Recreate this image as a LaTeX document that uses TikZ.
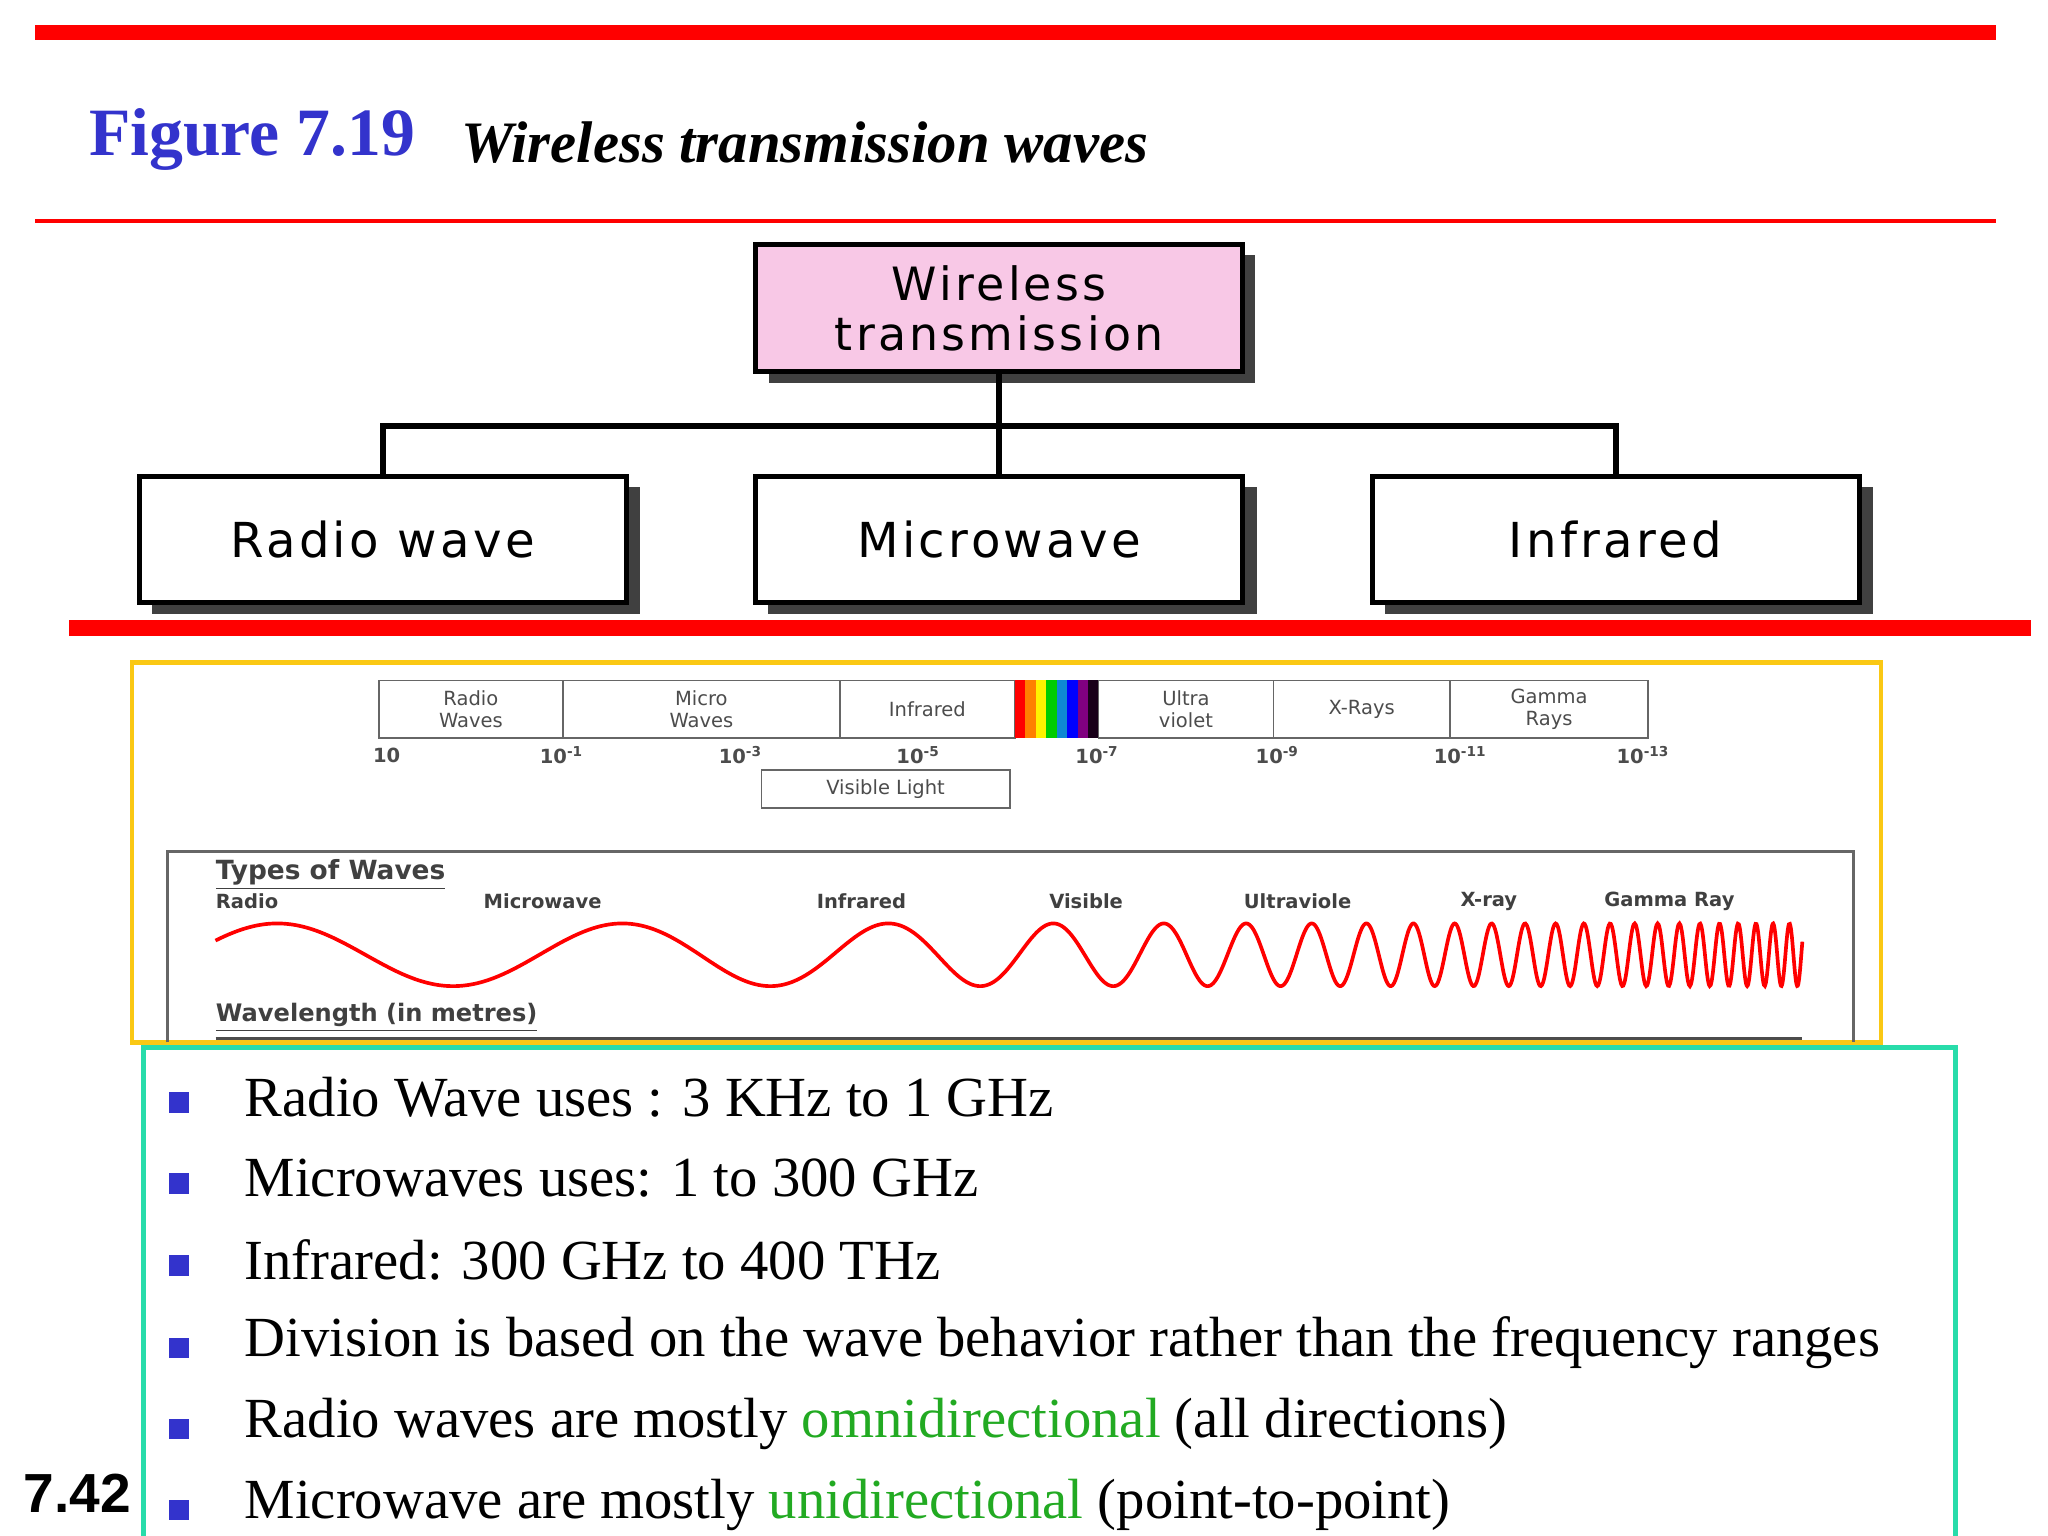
\documentclass[tikz,border=0pt]{standalone}
\usepackage{fontspec}
\setmainfont{Liberation Serif}
\newfontfamily\boxfont[LetterSpace=7]{DejaVu Sans}
\newfontfamily\smallf{DejaVu Sans}
\newfontfamily\numf{Liberation Sans}
\usetikzlibrary{calc}
\definecolor{tblue}{RGB}{51,51,204}
\definecolor{tgreen}{RGB}{34,170,34}
\definecolor{pinkbox}{RGB}{248,200,230}
\definecolor{yel}{RGB}{250,200,20}
\definecolor{teal2}{RGB}{40,220,170}
\tikzset{
 hbox/.style={draw=black,line width=2.2pt,minimum width=373*0.02cm,minimum height=97*0.02cm,font=\boxfont\fontsize{21}{24}\selectfont,align=center,fill=white},
 shad/.style={fill=black!75},
 conn/.style={line width=2.5pt},
 spec/.style={draw=black!60,line width=0.8pt,font=\smallf\fontsize{8.5}{9.5}\selectfont,align=center,text=black!70,inner sep=0pt},
 lab/.style={font=\smallf\bfseries\fontsize{8.5}{9}\selectfont,text=black!75,anchor=west,inner sep=0pt},
 bul/.style={fill=tblue,minimum size=9pt,inner sep=0pt},
 btxt/.style={font=\fontsize{24.7}{28}\selectfont,anchor=west,inner sep=0pt},
}
\begin{document}
\begin{tikzpicture}[x=0.02cm,y=-0.02cm]
\useasboundingbox[fill=white] (0,0) rectangle (1568,1176);
\fill[red] (27,19) rectangle (1528,31);
\node[anchor=west,inner sep=0,text=tblue,font=\bfseries\fontsize{29.5}{32}\selectfont] (fig) at (68,107) {Figure 7.19};
\node[anchor=west,inner sep=0,font=\bfseries\itshape\fontsize{25.6}{28}\selectfont] (ttl) at (353,109) {Wireless transmission waves};
\fill[red] (27,168) rectangle (1528,171);
% boxes
\fill[shad] (589,195) rectangle (961,293);
\node[hbox,fill=pinkbox,font=\boxfont\fontsize{20}{22}\selectfont] (top) at (765,236) {Wireless\\transmission};
\foreach \n/\x/\t in {rad/293/Radio wave,mic/765/Microwave,inf/1237/Infrared}{
 \fill[shad] (\x-177,373) rectangle (\x+197,470);
 \node[hbox] (\n) at (\x,413) {\t};
}
\draw[conn] (top.south) -- ++(0,40) -| (rad.north);
\draw[conn] (top.south) -- (mic.north);
\draw[conn] (top.south) -- ++(0,40) -| (inf.north);
\fill[red] (53,475) rectangle (1555,487);
% spectrum
\draw[yel,line width=2pt] (101,507) rectangle (1440,798);
\foreach \a/\b/\t in {290/431/Radio\\Waves,431/643/Micro\\Waves,643/777/Infrared,841/975/Ultra\\violet,975/1110/X-Rays,1110/1262/Gamma\\Rays}{
 \node[spec,minimum width={(\b-\a)*0.02cm},minimum height=44*0.02cm] at ({(\a+\b)/2},543) {\t};
}
\foreach \c [count=\i from 0] in {red,orange,yellow,green!80!black,cyan!70!blue,blue,violet,black!80!violet}{
 \fill[\c] ({777+\i*8},521) rectangle ({785+\i*8},565);
}
\foreach \x/\t in {296/10,430/10\textsuperscript{-1},567/10\textsuperscript{-3},703/10\textsuperscript{-5},840/10\textsuperscript{-7},978/10\textsuperscript{-9},1118/10\textsuperscript{-11},1258/10\textsuperscript{-13}}{
 \node[font=\smallf\bfseries\fontsize{8.5}{9}\selectfont,text=black!70] at (\x,578) {\t};
}
\node[spec,minimum width=190*0.02cm,minimum height=29*0.02cm] (vis) at (678,604) {Visible Light};
\draw[black!60,line width=1.2pt] (128,798) -- (128,652) -- (1419,652) -- (1419,798);
\node[lab,font=\smallf\bfseries\fontsize{11.5}{12}\selectfont] (tow) at (165,670) {\underline{Types of Waves}};
\foreach \x/\t in {165/Radio,370/Microwave,625/Infrared,803/Visible,952/Ultraviole,1118/X-ray,1228/Gamma Ray}{
 \node[lab] at (\x,690) {\t};
}
\draw[red,line width=1.6pt,samples=1500,domain=0:1,smooth] plot ({165+1215*\x},{731-24*sin(360*(4.5*\x+19.5*\x^5)+27)});
\node[lab,font=\smallf\bfseries\fontsize{10.5}{12}\selectfont] (wl) at (165,779) {\underline{Wavelength (in metres)}};
\draw[black!70,line width=1.5pt] (165,795) -- (1380,795);
% bullets
\draw[teal2,line width=2pt] (110,802) rectangle (1497,1180);
\foreach \y/\t in {840/{Radio Wave uses : 3 KHz to 1 GHz},902/{Microwaves uses: 1 to 300 GHz},965/{Infrared: 300 GHz to 400 THz},1028/{Division is based on the wave behavior rather than the frequency ranges},1090/{Radio waves are mostly \textcolor{tgreen}{omnidirectional} (all directions)},1152/{Microwave are mostly \textcolor{tgreen}{unidirectional} (point-to-point)}}{
 \node[bul] at (137,\y+4) {};
 \node[btxt] at (187,\y) {\t};
}
\node[anchor=west,inner sep=0,font=\numf\bfseries\fontsize{24}{26}\selectfont] (pg) at (18,1143) {7.42};
\end{tikzpicture}
\end{document}
